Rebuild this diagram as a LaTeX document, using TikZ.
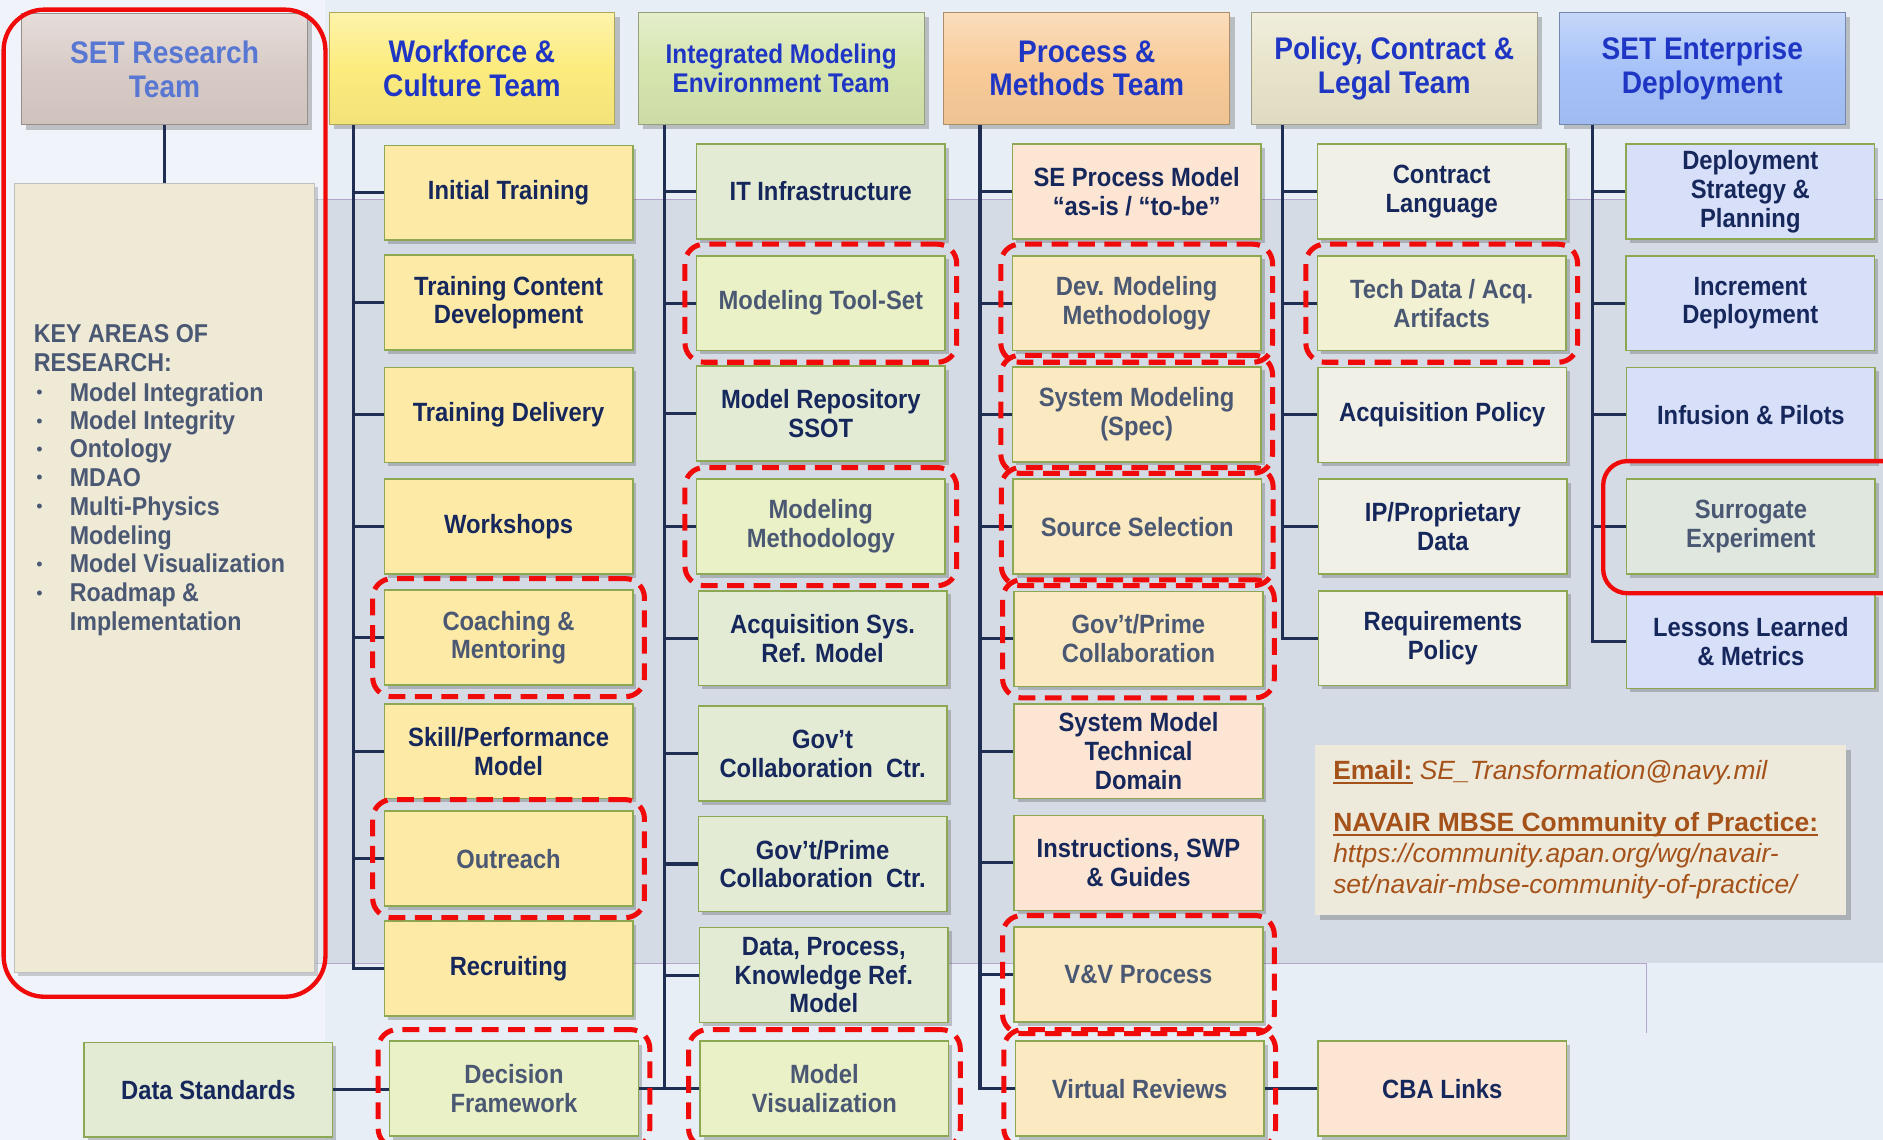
\documentclass[tikz,border=0pt]{standalone}
\usepackage{fontspec}
\setmainfont{Liberation Sans}
\newfontfamily\nfont{Liberation Sans}[FakeStretch=0.9]
\usetikzlibrary{shadows,fit,backgrounds}

% thick underline drawn as a rule under the text
\newsavebox\ulinebox
\newcommand\thickul[1]{\sbox\ulinebox{#1}\rlap{\rule[-3.5pt]{\wd\ulinebox}{1.8pt}}\usebox\ulinebox}

% palette
\definecolor{pagebg}{HTML}{E8EEF6}
\definecolor{panel}{HTML}{D5DBE5}
\definecolor{panelline}{HTML}{B3A5CB}
\definecolor{navy}{HTML}{16275C}
\definecolor{muted}{HTML}{4B5873}
\definecolor{hdrtext}{HTML}{1F36C4}
\definecolor{hdrsoft}{HTML}{5877D2}
\definecolor{conncol}{HTML}{1F2E52}
\definecolor{boxedge}{HTML}{8DA853}
\definecolor{hlred}{HTML}{F00A0A}
\definecolor{glow}{HTML}{E0E9C6}
\definecolor{brown}{HTML}{A4521A}
% header fills
\definecolor{hR}{HTML}{D8CBC6}
\definecolor{hW}{HTML}{FCEC7E}
\definecolor{hI}{HTML}{D5E5AE}
\definecolor{hP}{HTML}{F8CB98}
\definecolor{hC}{HTML}{E8E4CA}
\definecolor{hD}{HTML}{A6C2F8}
% box fills
\definecolor{fW}{HTML}{FDEAA6}
\definecolor{fI}{HTML}{E4EBD4}
\definecolor{fIh}{HTML}{EBF1C6}
\definecolor{fP}{HTML}{FCE5D3}
\definecolor{fPh}{HTML}{FBE9C2}
\definecolor{fC}{HTML}{F0F0E6}
\definecolor{fCh}{HTML}{F2F1D3}
\definecolor{fD}{HTML}{D7DFF9}
\definecolor{fDs}{HTML}{DFE7DF}
\definecolor{fR}{HTML}{EEEAD6}
\definecolor{fInfo}{HTML}{EEEADB}

\begin{document}
\begin{tikzpicture}[x=1pt,y=-1pt,
  hdr/.style={minimum width=238pt, minimum height=93pt, inner sep=2pt, align=center,
    font=\nfont\bfseries\fontsize{26}{28}\selectfont, text=hdrtext,
    top color=#1!65!white, bottom color=#1!96!black, middle color=#1, draw=#1!70!black, line width=0.8pt,
    drop shadow={shadow xshift=4pt, shadow yshift=-4pt, opacity=0.3, fill=black!70}},
  box/.style={draw=boxedge, line width=1.3pt, minimum width=207pt, minimum height=79pt,
    inner sep=2pt, align=center, font=\nfont\bfseries\fontsize{22}{24}\selectfont, text=navy,
    drop shadow={shadow xshift=3pt, shadow yshift=-3pt, opacity=0.3, fill=black!70}},
  hbox/.style={text=muted},
  hl/.style={draw=hlred, line width=4.2pt, dash pattern=on 14pt off 8pt, rounded corners=16pt,
    inner sep=9pt},
  glowbox/.style={fill=glow, rounded corners=16pt, inner sep=9pt},
  redframe/.style={draw=hlred, line width=3.6pt},
  conn/.style={draw=conncol, line width=2.6pt},
  rtext/.style={anchor=base west, inner sep=0pt, font=\nfont\bfseries\fontsize{21.5}{24}\selectfont, text=muted},
]
\clip (0,0) rectangle (1568,949);
\useasboundingbox (0,0) rectangle (1568,949);

% backdrop
\fill[pagebg] (0,0) rectangle (1568,949);
\fill[panel] (263,166) rectangle (1568,802);
\draw[panelline, line width=0.8pt] (263,166) -- (1568,166);
\draw[panelline, line width=0.8pt] (263,802) -- (1371,802) -- (1371,860);
\fill[white, opacity=0.35] (0,0) rectangle (271,949);

% team headers
\node[hdr=hR, text=hdrsoft] (hR) at (137,57.5) {SET Research\\Team};
\node[hdr=hW] (hW) at (393,57) {Workforce \&\\Culture Team};
\node[hdr=hI, font=\nfont\bfseries\fontsize{22.5}{24.5}\selectfont] (hI) at (650.5,57) {Integrated Modeling\\Environment Team};
\node[hdr=hP] (hP) at (905,57) {Process \&\\Methods Team};
\node[hdr=hC] (hC) at (1161,57) {Policy, Contract \&\\Legal Team};
\node[hdr=hD] (hD) at (1417.5,57) {SET Enterprise\\Deployment};

% research column
\node[draw=black!25, line width=1pt, fill=fR, minimum width=250pt, minimum height=657pt, inner sep=0pt,
  drop shadow={shadow xshift=3pt, shadow yshift=-3pt, opacity=0.25, fill=black!70}] (resbox) at (137,481.5) {};
\node[rtext] (rk1) at (28,285) {KEY AREAS OF};
\node[rtext] (rk2) at (28,309) {RESEARCH:};
\foreach \txt/\yy/\b [count=\k] in {Model Integration/334/1, Model Integrity/358/1, Ontology/381/1,
    MDAO/405/1, Multi-Physics/429/1, Modeling/453/0, Model Visualization/477/1,
    Roadmap \&/501/1, Implementation/525/0} {
  \node[rtext] (ri\k) at (58,\yy) {\txt};
  \ifnum\b=1 \node[rtext, font=\fontsize{15}{15}\selectfont] (rb\k) at (30,\yy-2) {•};\fi
}

% workforce column
\node[box, fill=fW] (w1) at (423.5,160.5) {Initial Training};
\node[box, fill=fW] (w2) at (423.5,252) {Training Content\\Development};
\node[box, fill=fW] (w3) at (423.5,345.5) {Training Delivery};
\node[box, fill=fW] (w4) at (423.5,438.5) {Workshops};
\node[box, hbox, fill=fW] (w5) at (423.5,531) {Coaching \&\\Mentoring};
\node[box, fill=fW] (w6) at (423.5,625.5) {Skill/Performance\\Model};
\node[box, hbox, fill=fW] (w7) at (423.5,715) {Outreach};
\node[box, fill=fW] (w8) at (423.5,806.5) {Recruiting};
\node[box, hbox, fill=fIh] (w9) at (428,906.5) {Decision\\Framework};
\node[box, fill=fI] (ds) at (173.5,907.5) {Data Standards};

% integrated modeling column
\node[box, fill=fI] (i1) at (683.5,159.5) {IT Infrastructure};
\node[box, hbox, fill=fIh] (i2) at (683.5,252.5) {Modeling Tool-Set};
\node[box, fill=fI] (i3) at (683.5,344.5) {Model Repository\\SSOT};
\node[box, hbox, fill=fIh] (i4) at (683.5,438.5) {Modeling\\Methodology};
\node[box, fill=fI] (i5) at (685,531.5) {Acquisition Sys.\\Ref. Model};
\node[box, fill=fI] (i6) at (685,627.5) {Gov’t\\Collaboration~ Ctr.};
\node[box, fill=fI] (i7) at (685,719.5) {Gov’t/Prime\\Collaboration~ Ctr.};
\node[box, fill=fI] (i8) at (686,812) {Data, Process,\\Knowledge Ref.\\Model};
\node[box, hbox, fill=fIh] (i9) at (686.5,906.5) {Model\\Visualization};

% process column
\node[box, fill=fP] (p1) at (946.5,159.5) {SE Process Model\\“as-is / “to-be”};
\node[box, hbox, fill=fPh] (p2) at (946.5,252.5) {Dev. Modeling\\Methodology};
\node[box, hbox, fill=fPh] (p3) at (946.5,345) {System Modeling\\(Spec)};
\node[box, hbox, fill=fPh] (p4) at (947,438.5) {Source Selection};
\node[box, hbox, fill=fPh] (p5) at (948,532) {Gov’t/Prime\\Collaboration};
\node[box, fill=fP] (p6) at (948,625.5) {System Model\\Technical\\Domain};
\node[box, fill=fP] (p7) at (948,718.5) {Instructions, SWP\\\& Guides};
\node[box, hbox, fill=fPh] (p8) at (948,811.5) {V\&V Process};
\node[box, hbox, fill=fPh] (p9) at (949,906.5) {Virtual Reviews};
\node[box, fill=fP] (cba) at (1201,906.5) {CBA Links};

% policy column
\node[box, fill=fC] (c1) at (1200.5,159.5) {Contract\\Language};
\node[box, hbox, fill=fCh] (c2) at (1200.5,252.5) {Tech Data / Acq.\\Artifacts};
\node[box, fill=fC] (c3) at (1201,345.5) {Acquisition Policy};
\node[box, fill=fC] (c4) at (1201.5,438.5) {IP/Proprietary\\Data};
\node[box, fill=fC] (c5) at (1201.5,531.5) {Requirements\\Policy};

% deployment column
\node[box, fill=fD] (d1) at (1457.5,159.5) {Deployment\\Strategy \&\\Planning};
\node[box, fill=fD] (d2) at (1457.5,252.5) {Increment\\Deployment};
\node[box, fill=fD] (d3) at (1458,345.5) {Infusion \& Pilots};
\node[box, hbox, fill=fDs] (d4) at (1458,438.5) {Surrogate\\Experiment};
\node[box, fill=fD] (d5) at (1458,534) {Lessons Learned\\\& Metrics};

% contact box
\node[fill=fInfo, minimum width=442pt, minimum height=142pt, anchor=north west, inner sep=0pt,
  drop shadow={shadow xshift=4pt, shadow yshift=-4pt, opacity=0.3, fill=black!70}] (info) at (1095,620) {};
\node[anchor=north west, inner sep=0pt, align=left, text=brown,
  font=\fontsize{22}{25.5}\selectfont] (infotext) at (1110,633)
  {{\bfseries\thickul{Email:}} \textit{SE\textunderscore Transformation@navy.mil}\\[18pt]
   {\bfseries\thickul{NAVAIR MBSE Community of Practice:}}\\
   \textit{https://community.apan.org/wg/navair-}\\
   \textit{set/navair-mbse-community-of-practice/}};

% glow behind highlighted boxes
\begin{scope}[on background layer]
  \foreach \n in {w5,w7,w9,i2,i4,i9,p2,p3,p4,p5,p8,p9,c2}
    \node[glowbox, fit=(\n)] (\n-glow) {};
\end{scope}

% connectors
\coordinate (t2) at (294,104);
\coordinate (t3) at (553,104);
\coordinate (t4) at (816,104);
\coordinate (t5) at (1068,104);
\coordinate (t6) at (1326,104);
\draw[conn] (hR.south) -- (resbox.north);
\draw[conn] (t2) |- (w8.west);
\foreach \n in {w1,w2,w3,w4,w5,w6,w7} \draw[conn] (\n.west) -- (\n.west -| t2);
\draw[conn] (t3) |- (i9.west);
\foreach \n in {i1,i2,i3,i4,i5,i6,i7,i8} \draw[conn] (\n.west) -- (\n.west -| t3);
\draw[conn] (t4) |- (p9.west);
\foreach \n in {p1,p2,p3,p4,p5,p6,p7,p8} \draw[conn] (\n.west) -- (\n.west -| t4);
\draw[conn] (t5) |- (c5.west);
\foreach \n in {c1,c2,c3,c4} \draw[conn] (\n.west) -- (\n.west -| t5);
\draw[conn] (t6) |- (d5.west);
\foreach \n in {d1,d2,d3,d4} \draw[conn] (\n.west) -- (\n.west -| t6);
\draw[conn] (ds.east) -- (ds.east -| w9.west);
\draw[conn] (w9.east) -- (w9.east -| i9.west);
\draw[conn] (p9.east) -- (p9.east -| cba.west);

% dashed highlights
\foreach \n in {w5,w7,w9,i2,i4,i9,p2,p3,p4,p5,p8,p9,c2}
  \node[hl, fit=(\n)] (\n-hl) {};

% solid highlights
\draw[redframe, rounded corners=34pt] (3,8) rectangle (271,830);
\draw[redframe, rounded corners=20pt] (1335,384) rectangle (1600,494);
\end{tikzpicture}
\end{document}
